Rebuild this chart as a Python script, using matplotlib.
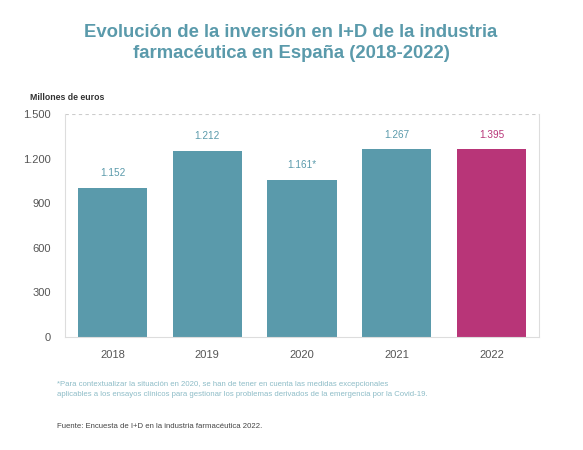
import matplotlib.pyplot as plt

years = ['2018', '2019', '2020', '2021', '2022']
# bar heights as drawn in the picture (millones de euros)
bar_heights = [1005, 1250, 1055, 1262, 1262]
# value labels as printed above the bars
value_labels = ['1.152', '1.212', '1.161*', '1.267', '1.395']
y_ticks = [0, 300, 600, 900, 1200, 1500]
y_tick_labels = ['0', '300', '600', '900', '1.200', '1.500']

teal = '#5a9aab'
magenta = '#b83578'
colors = [teal, teal, teal, teal, magenta]

plt.rcParams['font.family'] = ['Liberation Sans', 'DejaVu Sans']

fig = plt.figure(figsize=(5.83, 4.5), dpi=100)
W, H = 583, 450
ax = fig.add_axes([65 / W, 1 - 337 / H, 474 / W, 223 / H])

x = range(len(years))
bars = ax.bar(x, bar_heights, width=0.73, color=colors, zorder=2)
for i, (b, lab) in enumerate(zip(bars, value_labels)):
    ax.annotate(lab, (b.get_x() + b.get_width() / 2, b.get_height()),
                xytext=(0, 7), textcoords='offset points', ha='center', va='bottom',
                fontsize=7.2, color=colors[i])

ax.set_xlim(-0.5, 4.5)
ax.set_ylim(0, 1500)
ax.set_xticks(list(x))
ax.set_xticklabels(years)
ax.set_yticks(y_ticks)
ax.set_yticklabels(y_tick_labels)
ax.tick_params(length=0, labelsize=8, colors='#555555')
ax.tick_params(axis='x', pad=9)
ax.tick_params(axis='y', pad=10)

for side in ['left', 'right', 'bottom']:
    ax.spines[side].set_color('#dddddd')
    ax.spines[side].set_linewidth(0.8)
ax.spines['top'].set_visible(False)
ax.axhline(1500, color='#cccccc', linestyle=(0, (3, 3)), linewidth=0.8, zorder=1)

fig.text(30 / W, 1 - 97 / H, 'Millones de euros', fontsize=6.3, color='#333333',
         fontweight='bold', va='center')

fig.text(291 / W, 1 - 43 / H,
         'Evolución de la inversión en I+D de la industria\nfarmacéutica en España (2018-2022)',
         ha='center', va='center', fontsize=13.3, fontweight='bold', color=teal,
         linespacing=1.35)

fig.text(57 / W, 1 - 389 / H,
         '*Para contextualizar la situación en 2020, se han de tener en cuenta las medidas excepcionales\n'
         'aplicables a los ensayos clínicos para gestionar los problemas derivados de la emergencia por la Covid-19.',
         fontsize=5.6, color='#8dbcc7', va='center', linespacing=1.6)

fig.text(57 / W, 1 - 426 / H, 'Fuente: Encuesta de I+D en la industria farmacéutica 2022.',
         fontsize=5.6, color='#444444', va='center')

fig.savefig('out.png', dpi=100)
